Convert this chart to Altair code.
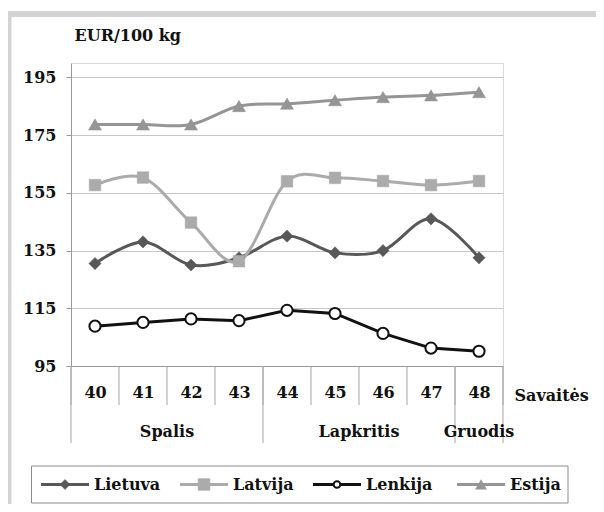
import altair as alt
import pandas as pd

WEEKS = [40, 41, 42, 43, 44, 45, 46, 47, 48]
SERIES = ["Lietuva", "Latvija", "Lenkija", "Estija"]
LIETUVA = [130.5, 138.0, 130.0, 132.5, 140.0, 134.2, 135.0, 146.0, 132.5]
LATVIJA = [157.7, 160.3, 144.7, 131.3, 159.0, 160.2, 159.1, 157.7, 159.1]
LENKIJA = [108.8, 110.1, 111.3, 110.7, 114.3, 113.2, 106.3, 101.2, 100.1]
ESTIJA = [178.7, 178.7, 178.7, 185.1, 185.9, 187.1, 188.2, 188.8, 189.9]
MONTHS = ["Spalis", "Lapkritis", "Gruodis"]
MONTH_FIRST = [40, 44, 48]
MONTH_LAST = [43, 47, 48]
Y_TICKS = [95, 115, 135, 155, 175, 195]

FONT = "DejaVu Serif"
FS = 16
TXT = "#111111"
COL_FILL = ["#585858", "#ababab", "#ffffff", "#959595"]
COL_STROKE = ["#585858", "#ababab", "#111111", "#959595"]
SHAPES = ["diamond", "square", "circle", "triangle-up"]
PLOT_SIZES = [150, 135, 125, 170]
PLOT_SW = [0.5, 0.5, 2, 0.5]
LEG_SIZES = [100, 140, 45, 120]

rows = []
for name, vals in zip(SERIES, [LIETUVA, LATVIJA, LENKIJA, ESTIJA]):
    for w, v in zip(WEEKS, vals):
        rows.append({"week": w, "series": name, "value": v})
df = pd.DataFrame(rows)
legend_df = pd.DataFrame({"series": SERIES})

edges = pd.DataFrame({"edge": [w - 0.5 for w in WEEKS] + [WEEKS[-1] + 0.5]})
month_edges = pd.DataFrame({"edge": [f - 0.5 for f in MONTH_FIRST] + [MONTH_LAST[-1] + 0.5]})
months = pd.DataFrame({"month": MONTHS, "first": MONTH_FIRST, "last": MONTH_LAST})

W, H = 432, 303

xscale = alt.Scale(domain=[39.5, 48.5], nice=False, zero=False)
yscale = alt.Scale(domain=[95, 200], nice=False, zero=False)
fill_scale = alt.Scale(domain=SERIES, range=COL_FILL)
stroke_scale = alt.Scale(domain=SERIES, range=COL_STROKE)

x_axis = alt.Axis(values=WEEKS, format="d", ticks=False, grid=False, domainColor="#999999",
                  labelFont=FONT, labelFontSize=FS, labelFontWeight="bold", labelColor=TXT,
                  labelPadding=18, labelFlush=False,
                  title="Savaitės", titleX=W + 11, titleY=29, titleAlign="left",
                  titleBaseline="middle", titleFont=FONT, titleFontSize=FS,
                  titleFontWeight="bold", titleColor=TXT)
y_axis = alt.Axis(values=Y_TICKS, grid=True, gridColor="#c6c6c6", tickColor="#999999",
                  tickSize=5, domainColor="#999999", labelFont=FONT, labelFontSize=FS,
                  labelFontWeight="bold", labelColor=TXT, labelPadding=10,
                  title="EUR/100 kg", titleAngle=0, titleX=3, titleY=-28, titleAlign="left",
                  titleBaseline="middle", titleFont=FONT, titleFontSize=FS,
                  titleFontWeight="bold", titleColor=TXT)

X = alt.X("week:Q", scale=xscale, axis=x_axis)
Y = alt.Y("value:Q", scale=yscale, axis=y_axis)
FILL = alt.Fill("series:N", scale=fill_scale, legend=None)
STROKE = alt.Stroke("series:N", scale=stroke_scale, legend=None)

frame = alt.Chart(pd.DataFrame({"a": [0]})).mark_rect(
    fillOpacity=0, stroke="#d4d4d4", strokeWidth=6
).encode(x=alt.value(-62.5), x2=alt.value(545), y=alt.value(-49), y2=alt.value(460))

base = alt.Chart(df)

smooth = base.transform_filter(alt.datum.series != "Lenkija").mark_line(
    interpolate="cardinal", strokeWidth=3
).encode(x=X, y=Y, stroke=STROKE)
straight = base.transform_filter(alt.datum.series == "Lenkija").mark_line(
    strokeWidth=3
).encode(x=X, y=Y, stroke=STROKE)

point_layers = []
for name, shape, size, sw in zip(SERIES, SHAPES, PLOT_SIZES, PLOT_SW):
    point_layers.append(
        base.transform_filter(alt.datum.series == name).mark_point(
            shape=shape, filled=True, size=size, opacity=1, strokeWidth=sw
        ).encode(x=X, y=Y, fill=FILL, stroke=STROKE)
    )

short_rules = alt.Chart(edges).mark_rule(color="#a6a6a6", strokeWidth=1).encode(
    x=alt.X("edge:Q", scale=xscale), y=alt.value(H), y2=alt.value(H + 39))
long_rules = alt.Chart(month_edges).mark_rule(color="#a6a6a6", strokeWidth=1).encode(
    x=alt.X("edge:Q", scale=xscale), y=alt.value(H), y2=alt.value(H + 77))
month_text = alt.Chart(months).transform_calculate(
    mid="(datum.first + datum.last) / 2"
).mark_text(font=FONT, fontSize=FS, fontWeight="bold", color=TXT, baseline="middle").encode(
    x=alt.X("mid:Q", scale=xscale), y=alt.value(H + 66), text="month:N")

# legend (drawn as marks; layout offsets only)
LEG_Y = 421.5
LEG_X0 = [-30, 109, 242, 386]
legend_box = alt.Chart(pd.DataFrame({"a": [0]})).mark_rect(
    fill="#ffffff", stroke="#8c8c8c", strokeWidth=1
).encode(x=alt.value(-39.5), x2=alt.value(497), y=alt.value(403), y2=alt.value(440))

legend_layers = [legend_box]
for name, shape, size, x0 in zip(SERIES, SHAPES, LEG_SIZES, LEG_X0):
    d = alt.Chart(legend_df).transform_filter(alt.datum.series == name)
    legend_layers.append(d.mark_rule(strokeWidth=3).encode(
        x=alt.value(x0), x2=alt.value(x0 + 48), y=alt.value(LEG_Y), stroke=STROKE))
    legend_layers.append(d.mark_point(
        shape=shape, filled=True, size=size, opacity=1,
        strokeWidth=2 if name == "Lenkija" else 0.5
    ).encode(x=alt.value(x0 + 24), y=alt.value(LEG_Y), fill=FILL, stroke=STROKE))
    legend_layers.append(d.mark_text(
        align="left", baseline="middle", font=FONT, fontSize=FS, fontWeight="bold", color=TXT
    ).encode(x=alt.value(x0 + 53), y=alt.value(LEG_Y), text="series:N"))

chart = alt.layer(
    frame, short_rules, long_rules, month_text, smooth, straight, *point_layers, *legend_layers
).properties(
    width=W, height=H,
    autosize=alt.AutoSizeParams(type="none"),
    padding={"left": 63, "top": 55, "right": 93, "bottom": 138},
).configure_view(stroke="#d9d9d9")

chart.save("out.html", embed_options={"renderer": "svg", "actions": False})
